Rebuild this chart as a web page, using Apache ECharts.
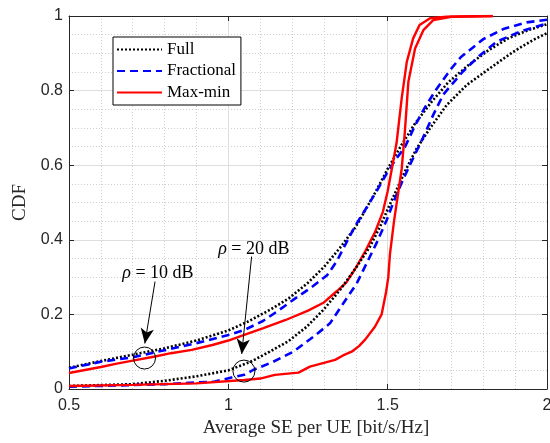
<!DOCTYPE html>
<html>
<head>
<meta charset="utf-8">
<script src="https://cdn.jsdelivr.net/npm/echarts@6/dist/echarts.min.js"></script>
<style>
  html, body { margin: 0; padding: 0; background: #fff; }
  #chart { width: 550px; height: 443px; }
</style>
</head>
<body>
<div id="chart"></div>
<script>
// Axis ranges and tick steps
const xTicks = [0.5, 1, 1.5, 2];
const yTicks = [0, 0.2, 0.4, 0.6, 0.8, 1];

// Power-control schemes shown in the legend
const schemeNames = ['Full', 'Fractional', 'Max-min'];

// CDF of average SE per UE, rho = 10 dB  ([SE, CDF] pairs)
const full10 = [[0.5,0.057],[0.6,0.075],[0.7,0.092],[0.8,0.109],[0.9,0.130],[1.0,0.157],[1.06,0.180],[1.13,0.212],[1.19,0.243],[1.25,0.285],[1.3,0.327],[1.35,0.378],[1.4,0.435],[1.42,0.465],[1.46,0.525],[1.5,0.59],[1.544,0.655],[1.586,0.712],[1.638,0.770],[1.69,0.822],[1.753,0.868],[1.816,0.908],[1.878,0.940],[1.941,0.962],[2.0,0.978]];
const frac10 = [[0.5,0.055],[0.6,0.073],[0.7,0.085],[0.8,0.104],[0.9,0.123],[1.0,0.145],[1.05,0.158],[1.11,0.183],[1.16,0.212],[1.21,0.243],[1.26,0.272],[1.31,0.305],[1.34,0.342],[1.37,0.392],[1.40,0.440],[1.435,0.488],[1.465,0.53],[1.495,0.575],[1.525,0.615],[1.554,0.648],[1.585,0.705],[1.617,0.755],[1.65,0.80],[1.696,0.855],[1.73,0.89],[1.80,0.938],[1.863,0.965],[1.936,0.983],[2.0,0.99]];
const maxmin10 = [[0.5,0.043],[0.55,0.051],[0.6,0.059],[0.65,0.068],[0.7,0.076],[0.77,0.087],[0.82,0.096],[0.885,0.105],[0.95,0.118],[1.0,0.130],[1.05,0.145],[1.11,0.163],[1.18,0.185],[1.25,0.210],[1.3,0.232],[1.34,0.262],[1.37,0.285],[1.40,0.325],[1.43,0.370],[1.46,0.42],[1.485,0.475],[1.50,0.53],[1.513,0.59],[1.528,0.66],[1.544,0.779],[1.56,0.877],[1.58,0.940],[1.60,0.976],[1.633,0.994],[1.685,0.998],[1.83,1.0]];

// CDF of average SE per UE, rho = 20 dB
const full20 = [[0.5,0.008],[0.7,0.013],[0.8,0.022],[0.9,0.034],[1.0,0.050],[1.07,0.073],[1.13,0.100],[1.19,0.129],[1.246,0.167],[1.298,0.212],[1.35,0.265],[1.403,0.328],[1.444,0.381],[1.476,0.435],[1.507,0.495],[1.528,0.534],[1.554,0.583],[1.591,0.645],[1.633,0.699],[1.685,0.761],[1.748,0.815],[1.821,0.860],[1.894,0.904],[1.957,0.936],[2.0,0.954]];
const frac20 = [[0.5,0.006],[0.8,0.013],[0.958,0.020],[1.01,0.031],[1.05,0.038],[1.078,0.051],[1.141,0.073],[1.204,0.10],[1.267,0.140],[1.319,0.176],[1.361,0.23],[1.403,0.283],[1.434,0.337],[1.465,0.391],[1.497,0.453],[1.52,0.505],[1.545,0.555],[1.575,0.61],[1.61,0.672],[1.643,0.735],[1.675,0.79],[1.737,0.852],[1.79,0.895],[1.842,0.931],[1.915,0.958],[2.0,0.980]];
const maxmin20 = [[0.5,0.008],[0.7,0.011],[0.9,0.015],[1.05,0.024],[1.1,0.028],[1.146,0.038],[1.22,0.044],[1.256,0.060],[1.30,0.070],[1.335,0.078],[1.36,0.090],[1.387,0.10],[1.41,0.115],[1.43,0.133],[1.46,0.167],[1.481,0.2],[1.495,0.26],[1.502,0.30],[1.507,0.36],[1.52,0.45],[1.532,0.52],[1.544,0.59],[1.554,0.69],[1.565,0.824],[1.586,0.913],[1.612,0.962],[1.643,0.989],[1.70,0.998],[1.83,1.0]];

// Annotations: SNR labels, arrows and the circles they point at (data coordinates)
const noteTexts = ['10 dB', '20 dB'];
const noteTextPos = [[0.779, 0.311], [1.080, 0.375]];
const arrowFrom = [[0.770, 0.288], [1.073, 0.355]];
const arrowTo = [[0.738, 0.122], [1.042, 0.094]];
const circlePos = [[0.737, 0.083], [1.049, 0.048]];

const axisColor = '#262626';
const serif = 'Liberation Serif';
const sans = 'Liberation Sans';

const styles = {
  Full: { color: '#000000', width: 2.6, type: [2, 2] },
  Fractional: { color: '#0000ff', width: 2.6, type: [8, 5] },
  'Max-min': { color: '#ff0000', width: 2.4, type: 'solid' }
};

function curve(name, data) {
  const s = styles[name];
  return {
    name: name,
    type: 'line',
    data: data,
    symbol: 'none',
    showSymbol: false,
    itemStyle: { color: s.color },
    lineStyle: { color: s.color, width: s.width, type: s.type, cap: 'butt' },
    silent: true,
    z: 3
  };
}

const chart = echarts.init(document.getElementById('chart'), null, { renderer: 'canvas' });

const baseX = {
  type: 'value',
  min: xTicks[0],
  max: xTicks[xTicks.length - 1],
  interval: xTicks[1] - xTicks[0]
};
const baseY = {
  type: 'value',
  min: yTicks[0],
  max: yTicks[yTicks.length - 1],
  interval: yTicks[1] - yTicks[0]
};

chart.setOption({
  animation: false,
  backgroundColor: '#ffffff',
  grid: { left: 69, right: 3, top: 16, bottom: 54, containLabel: false, outerBoundsMode: 'none' },
  legend: {
    data: schemeNames,
    orient: 'vertical',
    left: 113,
    top: 37,
    itemWidth: 45,
    itemHeight: 12,
    itemGap: 4.5,
    padding: [4, 5, 4, 3],
    borderColor: '#000',
    borderWidth: 1,
    borderRadius: 0,
    backgroundColor: '#ffffff',
    selectedMode: false,
    itemStyle: { opacity: 0 },
    lineStyle: { opacity: 1 },
    textStyle: { fontFamily: serif, fontSize: 17, color: '#000', lineHeight: 17 }
  },
  xAxis: [
    Object.assign({}, baseX, {
      position: 'bottom',
      name: 'Average SE per UE [bit/s/Hz]',
      nameLocation: 'middle',
      nameGap: 29,
      nameTextStyle: { fontFamily: serif, fontSize: 19, color: axisColor, padding: [0, 0, 0, 16] },
      axisLine: { show: true, onZero: false, lineStyle: { color: axisColor, width: 1 } },
      axisTick: { show: true, inside: true, length: 5, lineStyle: { color: axisColor } },
      axisLabel: { margin: 9, fontFamily: sans, fontSize: 16, color: axisColor },
      splitLine: { show: true, lineStyle: { color: '#dedede', width: 1 } },
      minorTick: { show: false, splitNumber: 5 },
      minorSplitLine: { show: true, lineStyle: { color: '#cfcfcf', width: 1, type: [1, 2] } }
    }),
    Object.assign({}, baseX, {
      position: 'top',
      axisLine: { show: true, onZero: false, lineStyle: { color: axisColor, width: 1 } },
      axisTick: { show: true, inside: true, length: 5, lineStyle: { color: axisColor } },
      axisLabel: { show: false },
      splitLine: { show: false }
    })
  ],
  yAxis: [
    Object.assign({}, baseY, {
      position: 'left',
      name: 'CDF',
      nameLocation: 'middle',
      nameGap: 39,
      nameRotate: 90,
      nameTextStyle: { fontFamily: serif, fontSize: 19, color: axisColor },
      axisLine: { show: true, onZero: false, lineStyle: { color: axisColor, width: 1 } },
      axisTick: { show: true, inside: true, length: 5, lineStyle: { color: axisColor } },
      axisLabel: { margin: 6, fontFamily: sans, fontSize: 16, color: axisColor },
      splitLine: { show: true, lineStyle: { color: '#dedede', width: 1 } },
      minorTick: { show: false, splitNumber: 4 },
      minorSplitLine: { show: true, lineStyle: { color: '#cfcfcf', width: 1, type: [1, 2] } }
    }),
    Object.assign({}, baseY, {
      position: 'right',
      axisLine: { show: true, onZero: false, lineStyle: { color: axisColor, width: 1 } },
      axisTick: { show: true, inside: true, length: 5, lineStyle: { color: axisColor } },
      axisLabel: { show: false },
      splitLine: { show: false }
    })
  ],
  series: [
    curve('Full', full10),
    curve('Fractional', frac10),
    curve('Max-min', maxmin10),
    curve('Full', full20),
    curve('Fractional', frac20),
    curve('Max-min', maxmin20),
    {
      name: 'annotations',
      type: 'line',
      data: [],
      silent: true,
      z: 5,
      markLine: {
        silent: true,
        animation: false,
        symbol: ['none', 'arrow'],
        symbolSize: [10, 15],
        label: { show: false },
        lineStyle: { color: '#000', width: 1, type: 'solid' },
        emphasis: { disabled: true },
        data: arrowFrom.map((p, i) => [{ coord: p }, { coord: arrowTo[i] }])
      },
      markPoint: {
        silent: true,
        animation: false,
        data: circlePos.map(p => ({
          coord: p,
          symbol: 'circle',
          symbolSize: 22,
          itemStyle: { color: 'rgba(0,0,0,0)', borderColor: '#000', borderWidth: 1 },
          label: { show: false }
        })).concat(noteTextPos.map((p, i) => ({
          coord: p,
          symbol: 'rect',
          symbolSize: 1,
          itemStyle: { color: 'rgba(0,0,0,0)', borderWidth: 0 },
          label: {
            show: true,
            position: 'inside',
            formatter: '{g|ρ} = ' + noteTexts[i],
            fontFamily: serif,
            fontSize: 18,
            color: '#000',
            rich: { g: { fontFamily: serif, fontStyle: 'italic', fontSize: 18, color: '#000' } }
          }
        })))
      }
    }
  ]
});
</script>
</body>
</html>
